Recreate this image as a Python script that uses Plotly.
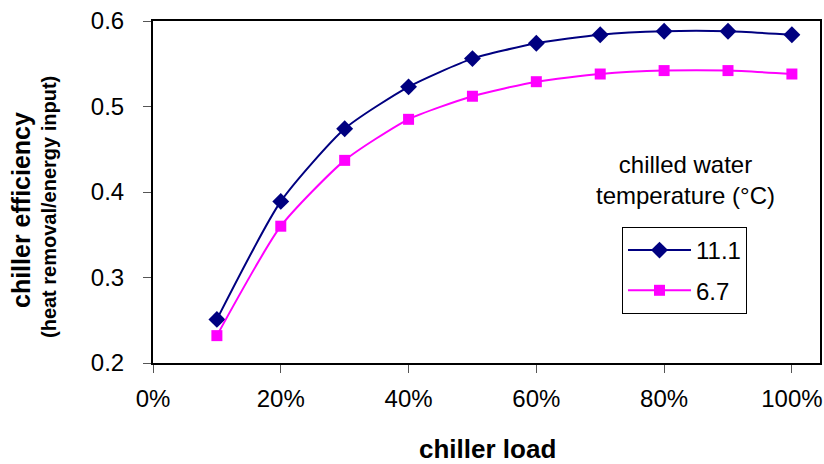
import plotly.graph_objects as go

load = [0.1, 0.2, 0.3, 0.4, 0.5, 0.6, 0.7, 0.8, 0.9, 1.0]
eff_11_1 = [0.251, 0.389, 0.474, 0.523, 0.556, 0.574, 0.584, 0.588, 0.588, 0.584]
eff_6_7 = [0.232, 0.360, 0.437, 0.485, 0.512, 0.529, 0.538, 0.542, 0.542, 0.538]
series_names = ["11.1", "6.7"]
x_ticks = [0, 0.2, 0.4, 0.6, 0.8, 1.0]
x_ticktext = ["0%", "20%", "40%", "60%", "80%", "100%"]
y_ticks = [0.2, 0.3, 0.4, 0.5, 0.6]

FONT = "Liberation Sans, Arial, sans-serif"
NAVY = "#000080"
MAGENTA = "#FF00FF"

W, H = 824, 464
L, R, T, B = 153, 820, 21, 363
PW, PH = R - L, B - T

def px(xs):
    return (xs - L) / PW

def py(ys):
    return (B - ys) / PH

fig = go.Figure()
fig.add_trace(go.Scatter(
    x=load, y=eff_11_1, name=series_names[0], mode="lines+markers",
    line=dict(color=NAVY, width=2, shape="spline", smoothing=0.6),
    marker=dict(symbol="diamond", size=13, color=NAVY),
    legendgroup="a",
))
fig.add_trace(go.Scatter(
    x=load, y=eff_6_7, name=series_names[1], mode="lines+markers",
    line=dict(color=MAGENTA, width=2, shape="spline", smoothing=0.6),
    marker=dict(symbol="square", size=11, color=MAGENTA),
    legendgroup="b",
))

fig.update_layout(
    width=W, height=H,
    margin=dict(l=L, r=W - R, t=T, b=H - B, autoexpand=False),
    paper_bgcolor="white", plot_bgcolor="white",
    font=dict(family=FONT, color="black", size=24),
    showlegend=True,
    legend=dict(
        x=px(622), y=py(227), xanchor="left", yanchor="top",
        bordercolor="black", borderwidth=1, bgcolor="white",
        font=dict(size=24, family=FONT), traceorder="grouped",
        tracegroupgap=6, itemwidth=63,
    ),
    xaxis=dict(
        range=[0, 1.044], tickvals=x_ticks, ticktext=x_ticktext,
        showgrid=False, zeroline=False, automargin=False,
        showline=True, linecolor="black", linewidth=2, mirror=True,
        ticks="outside", ticklen=8, tickcolor="#555", tickwidth=1,
        tickfont=dict(size=24, family=FONT),
        ticklabeloverflow="allow", ticklabelstandoff=5,
    ),
    yaxis=dict(
        range=[0.2, 0.6], tickvals=y_ticks, tickformat=".1f",
        showgrid=False, zeroline=False, automargin=False,
        showline=True, linecolor="black", linewidth=2, mirror=True,
        ticks="outside", ticklen=8, tickcolor="#555", tickwidth=1,
        tickfont=dict(size=24, family=FONT),
        ticklabeloverflow="allow", ticklabelstandoff=14,
    ),
)

# x-axis title
fig.add_annotation(
    text="<b>chiller load</b>", xref="paper", yref="paper",
    x=px(487), y=py(449), showarrow=False,
    xanchor="center", yanchor="middle", font=dict(size=26, family=FONT),
)
# y-axis title (two lines, different sizes)
fig.add_annotation(
    text="<b>chiller efficiency</b>", xref="paper", yref="paper",
    x=px(21), y=py(210), showarrow=False, textangle=-90,
    xanchor="center", yanchor="middle", font=dict(size=25, family=FONT),
)
fig.add_annotation(
    text="<b>(heat removal/energy input)</b>", xref="paper", yref="paper",
    x=px(49), y=py(207), showarrow=False, textangle=-90,
    xanchor="center", yanchor="middle", font=dict(size=20, family=FONT),
)
# legend heading
fig.add_annotation(
    text="chilled water<br>temperature (°C)", xref="paper", yref="paper",
    x=px(685), y=py(180), showarrow=False,
    xanchor="center", yanchor="middle", align="center",
    font=dict(size=24, family=FONT),
)

fig.write_html(
    "out.html",
    config={"displayModeBar": False},
    post_script="document.body.style.margin='0';document.body.style.overflow='hidden';",
)
